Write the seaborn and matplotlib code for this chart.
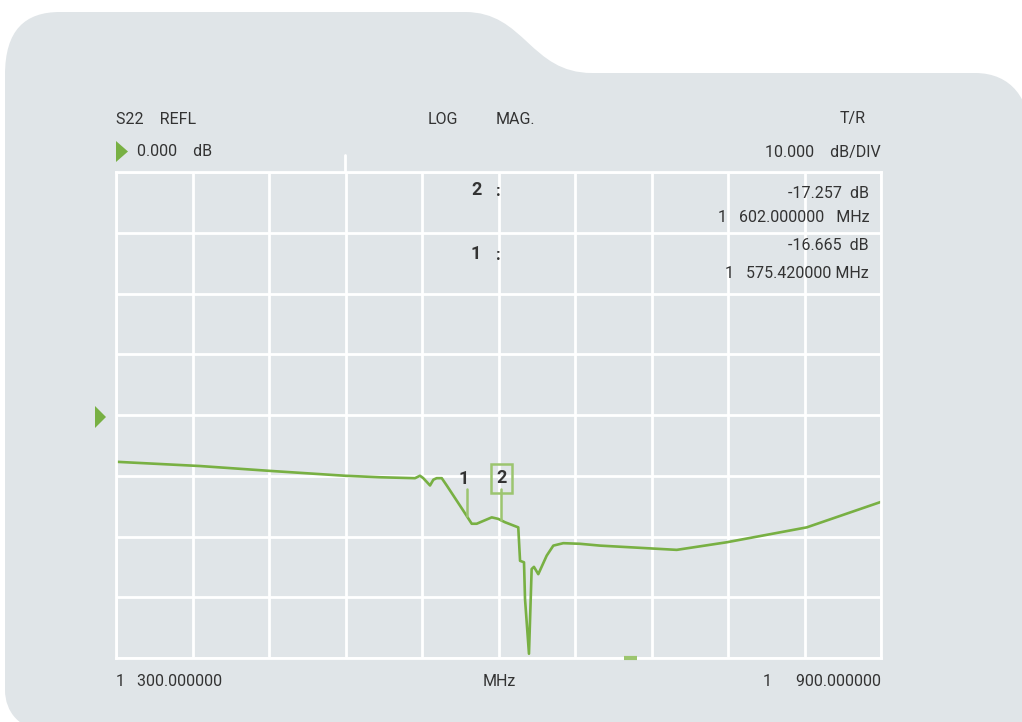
import seaborn as sns
import matplotlib.pyplot as plt
from matplotlib.path import Path
from matplotlib.patches import PathPatch
import pandas as pd

# -------------- DONNEES -------------------#

freq_mhz = [300.0, 365.9, 420.8, 479.6, 507.1, 534.5, 538.4, 541.0, 546.3, 548.9,
            551.5, 555.5, 559.4, 572.4, 579.0, 582.9, 594.7, 599.8, 605.1, 615.5,
            616.9, 620.0, 620.8, 623.9, 626.0, 627.8, 631.2, 637.8, 643.0, 650.8,
            663.9, 679.6, 739.8, 779.0, 841.7, 900.0]
s22_db = [-7.7, -8.4, -9.2, -10.0, -10.25, -10.4, -10.0, -10.4, -11.6, -10.65,
          -10.4, -10.4, -11.6, -15.75, -17.9, -17.9, -16.85, -17.1, -17.65, -18.5,
          -24.0, -24.25, -30.3, -39.3, -25.35, -25.0, -26.2, -23.15, -21.5, -21.1,
          -21.2, -21.5, -22.2, -20.95, -18.5, -14.3]

marker_ids = ["1", "2"]
marker_freq = [575.42, 602.0]
marker_db = [-16.665, -17.257]

x_ticks = list(range(300, 901, 60))
y_ticks = list(range(-40, 41, 10))

# -------------- STYLE -------------------#

panel = '#e0e5e8'
vert = '#78b043'
vert_clair = '#9cc56f'
texte = '#333333'

sns.set_theme(style='darkgrid', rc={'axes.facecolor': 'none', 'grid.color': 'white',
                                    'grid.linewidth': 2})
plt.rcParams['font.family'] = ['Liberation Sans Narrow', 'Roboto', 'DejaVu Sans']

W, H = 1022, 722
fig = plt.figure(figsize=(W / 100, H / 100), dpi=100, facecolor='white')

# fond (panneau gris avec onglet)
bg = fig.add_axes([0, 0, 1, 1], zorder=0)
bg.set_xlim(0, W)
bg.set_ylim(H, 0)
bg.axis('off')
verts = [(5, 690), (5, 75), (5, 30), (25, 12), (60, 12), (465, 12),
         (525, 12), (530, 73), (592, 73), (975, 73), (1012, 73), (1030, 100),
         (1030, 135), (1030, 730), (45, 730), (20, 730), (5, 712), (5, 690)]
codes = [Path.MOVETO, Path.LINETO, Path.CURVE4, Path.CURVE4, Path.CURVE4, Path.LINETO,
         Path.CURVE4, Path.CURVE4, Path.CURVE4, Path.LINETO, Path.CURVE4, Path.CURVE4,
         Path.CURVE4, Path.LINETO, Path.LINETO, Path.CURVE4, Path.CURVE4, Path.CURVE4]
bg.add_patch(PathPatch(Path(verts, codes), facecolor=panel, edgecolor='none'))

# petits reperes hors grille
bg.plot([345, 345], [155, 172], color='white', lw=2)
bg.fill([95, 95, 106], [406, 428, 417], color=vert, lw=0)
bg.fill([116, 116, 128], [141, 162, 151.5], color=vert, lw=0)

# -------------- COURBE -------------------#

ax = fig.add_axes([116 / W, (H - 658) / H, 765 / W, 486 / H], zorder=1)
df = pd.DataFrame({'freq': freq_mhz, 'db': s22_db})
sns.lineplot(data=df, x='freq', y='db', ax=ax, color=vert, linewidth=1.9, sort=False)
ax.set_xlim(300, 900)
ax.set_ylim(-40, 40)
ax.set_xticks(x_ticks)
ax.set_yticks(y_ticks)
ax.tick_params(labelbottom=False, labelleft=False, length=0)
ax.set_xlabel('')
ax.set_ylabel('')
for s in ax.spines.values():
    s.set_visible(True)
    s.set_color('white')
    s.set_linewidth(2)

# petit trait de stimulus en bas de grille
ax.plot([698.5, 708.5], [-40, -40], color=vert_clair, lw=3, solid_capstyle='butt', clip_on=False, zorder=5)

# marqueurs
label_db = [-10.5, -10.4]
for m, f, d, ly in zip(marker_ids, marker_freq, marker_db, label_db):
    ax.plot([f, f], [ly - 1.7, d], color=vert_clair, lw=1.8)
    if m == '2':
        ax.text(f, ly, m, ha='center', va='center', fontsize=13, fontweight='bold',
                color=texte, bbox=dict(boxstyle='square,pad=0.3', fc='none', ec=vert_clair, lw=1.8))
    else:
        ax.text(f - 2.5, ly, m, ha='center', va='center', fontsize=13, fontweight='bold', color=texte)

# -------------- TEXTES -------------------#

def txt(x, y, s, ha='left', size=11.5, **kw):
    fig.text(x / W, 1 - y / H, s, ha=ha, va='center', fontsize=size, color=texte, **kw)

txt(116, 119, 'S22    REFL')
txt(137, 152, '0.000    dB')
txt(428, 119, 'LOG')
txt(496, 119, 'MAG.')
txt(866, 119, 'T/R', ha='right')
txt(881, 152, '10.000    dB/DIV', ha='right')
txt(476, 190, '2', ha='center', fontweight='bold', size=13)
txt(498, 192, ':', ha='center', fontweight='bold', size=12)
txt(869, 194, '-17.257  dB', ha='right')
txt(869, 218, '1   602.000000   MHz', ha='right')
txt(476, 254, '1', ha='center', fontweight='bold', size=13)
txt(498, 256, ':', ha='center', fontweight='bold', size=12)
txt(869, 245, '-16.665  dB', ha='right')
txt(869, 273, '1   575.420000 MHz', ha='right')
txt(116, 682, '1   300.000000')
txt(499, 682, 'MHz', ha='center')
txt(881, 682, '1      900.000000', ha='right')

plt.savefig('out.png', dpi=100, facecolor='white')
